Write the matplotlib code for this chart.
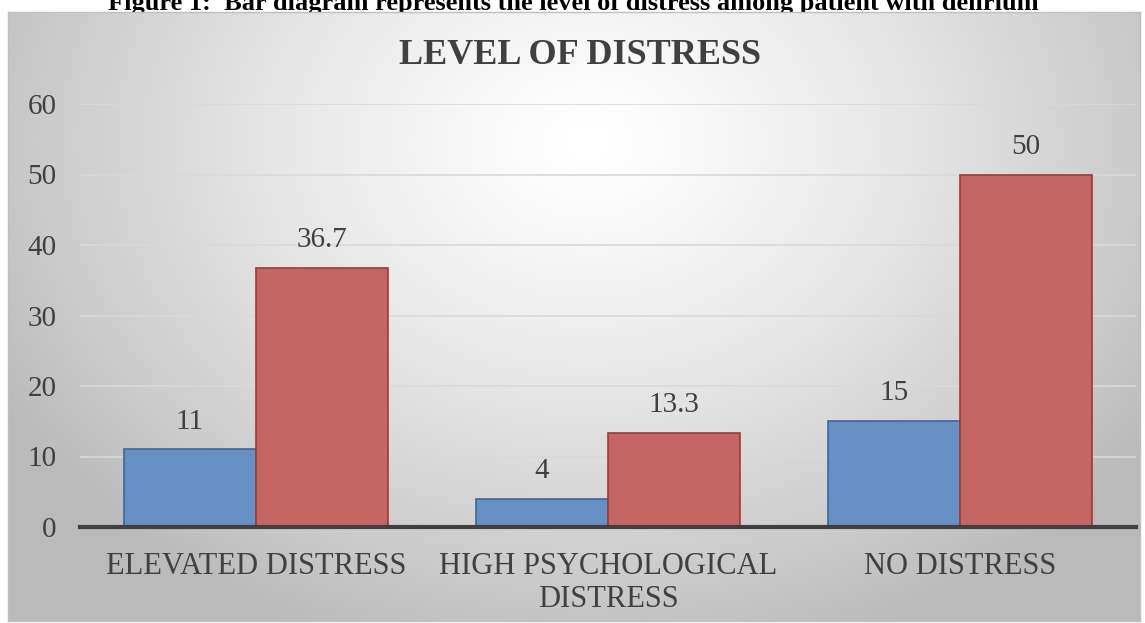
import matplotlib
matplotlib.use('Agg')
import matplotlib.pyplot as plt
import numpy as np

categories = ['ELEVATED DISTRESS', 'HIGH PSYCHOLOGICAL\nDISTRESS', 'NO DISTRESS']
counts = [11, 4, 15]
percents = [36.7, 13.3, 50]
count_labels = ['11', '4', '15']
percent_labels = ['36.7', '13.3', '50']
yticks = [0, 10, 20, 30, 40, 50, 60]

W, H = 1145, 623
fig = plt.figure(figsize=(W / 100, H / 100), dpi=100)
fig.patch.set_facecolor('white')
serif = 'Liberation Serif'
txt = '#404040'

# chart frame with radial gradient background
bg = fig.add_axes([8 / W, 1 - 621 / H, 1132 / W, 609 / H])
yy, xx = np.mgrid[0:609, 0:1132]
r = np.sqrt(((xx - 580) / 680.0) ** 2 + ((yy - 130) / 540.0) ** 2)
shade = 1.0 - 0.27 * np.clip(r, 0, 1) ** 1.3
bg.imshow(np.dstack([shade, shade, shade]), aspect='auto', extent=(0, 1, 0, 1))
bg.set_xticks([])
bg.set_yticks([])
for s in bg.spines.values():
    s.set_color('#bfbfbf')
    s.set_linewidth(1)

# caption, top half cut off by the page edge (as in the source)
fig.text(573 / W, 1 - 10 / H,
         'Figure 1:  Bar diagram represents the level of distress among patient with delirium',
         ha='center', va='baseline', fontsize=19, fontweight='bold', family=serif,
         color='black', zorder=0)
bg.set_zorder(1)

ax = fig.add_axes([80 / W, 1 - 527 / H, 1056 / W, 423 / H])
ax.set_zorder(2)
ax.patch.set_alpha(0)
x = np.arange(len(categories))
bw = 0.375
ax.bar(x - bw / 2, counts, bw, color='#6690c4', edgecolor='#3f6698', linewidth=1.2, zorder=3)
ax.bar(x + bw / 2, percents, bw, color='#c66664', edgecolor='#9a3b39', linewidth=1.2, zorder=3)

for xi, v, lab in zip(x, counts, count_labels):
    ax.text(xi - bw / 2, v + 2.1, lab, ha='center', va='bottom', fontsize=21,
            family=serif, color=txt)
for xi, v, lab in zip(x, percents, percent_labels):
    ax.text(xi + bw / 2, v + 2.1, lab, ha='center', va='bottom', fontsize=21,
            family=serif, color=txt)

ax.set_xlim(-0.5, len(categories) - 0.5)
ax.set_ylim(0, 60)
ax.set_yticks(yticks)
ax.set_yticklabels([str(t) for t in yticks], fontsize=21, family=serif, color=txt)
ax.set_xticks(x)
ax.set_xticklabels(categories, fontsize=22, family=serif, color=txt, linespacing=1.2)
ax.tick_params(axis='both', length=0)
ax.tick_params(axis='y', pad=17)
ax.tick_params(axis='x', pad=18)
ax.yaxis.grid(True, color='#d9d9d9', linewidth=1.2, zorder=0)
for s in ['top', 'right', 'left']:
    ax.spines[s].set_visible(False)
ax.spines['bottom'].set_color(txt)
ax.spines['bottom'].set_linewidth(3)
ax.spines['bottom'].set_zorder(4)

fig.text(580 / W, 1 - 56 / H, 'LEVEL OF DISTRESS', ha='center', va='center',
         fontsize=26, fontweight='bold', family=serif, color=txt, zorder=3)

fig.savefig('out.png', dpi=100)
